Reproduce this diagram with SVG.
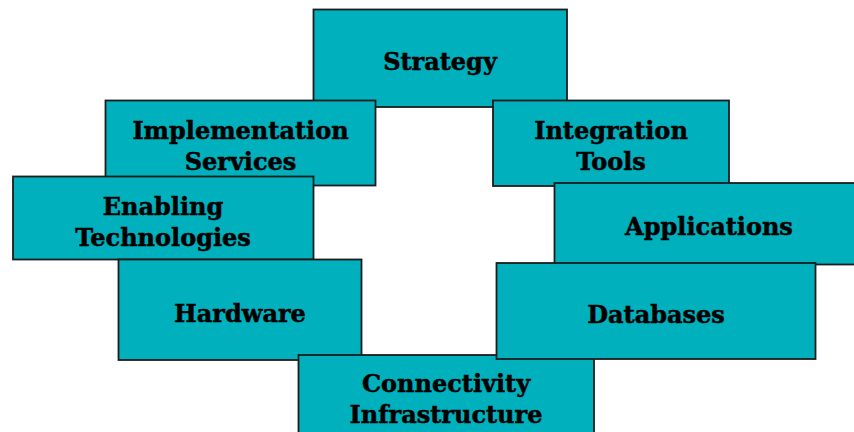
<svg xmlns="http://www.w3.org/2000/svg" width="854" height="432" viewBox="0 0 854 432">
  <style>
    .box { fill: #00B0BC; stroke: #1c1c1c; stroke-width: 1.8; }
    .lbl { font-family: "DejaVu Serif", "Liberation Serif", serif; font-weight: bold; font-size: 24px; fill: #000; stroke: #000; stroke-width: 0.5; text-anchor: middle; }
  </style>
  <rect x="0" y="0" width="854" height="432" fill="#ffffff"/>

  <g id="strategy">
    <rect class="box" x="313.5" y="9.5" width="253.5" height="97.5"/>
    <text class="lbl" x="440" y="70">Strategy</text>
  </g>
  <g id="implementation-services">
    <rect class="box" x="105.5" y="100.5" width="270" height="85"/>
    <text class="lbl" x="240.5" y="139">Implementation</text>
    <text class="lbl" x="240.5" y="170">Services</text>
  </g>
  <g id="enabling-technologies">
    <rect class="box" x="13" y="176.5" width="300.5" height="83"/>
    <text class="lbl" x="163" y="214.5">Enabling</text>
    <text class="lbl" x="163" y="245.5">Technologies</text>
  </g>
  <g id="hardware">
    <rect class="box" x="118.5" y="259.5" width="243" height="100.5"/>
    <text class="lbl" x="240" y="322">Hardware</text>
  </g>
  <g id="integration-tools">
    <rect class="box" x="493" y="100.5" width="236" height="85.5"/>
    <text class="lbl" x="611" y="139">Integration</text>
    <text class="lbl" x="611" y="170">Tools</text>
  </g>
  <g id="applications">
    <rect class="box" x="554.5" y="183" width="310" height="81.5"/>
    <text class="lbl" x="709" y="235">Applications</text>
  </g>
  <g id="connectivity-infrastructure">
    <rect class="box" x="298.5" y="355" width="295.5" height="90"/>
    <text class="lbl" x="446" y="391.5">Connectivity</text>
    <text class="lbl" x="446" y="422.5">Infrastructure</text>
  </g>
  <g id="databases">
    <rect class="box" x="496.5" y="263" width="319" height="96"/>
    <text class="lbl" x="656" y="322.5">Databases</text>
  </g>

  <g id="connectors"></g>
</svg>
